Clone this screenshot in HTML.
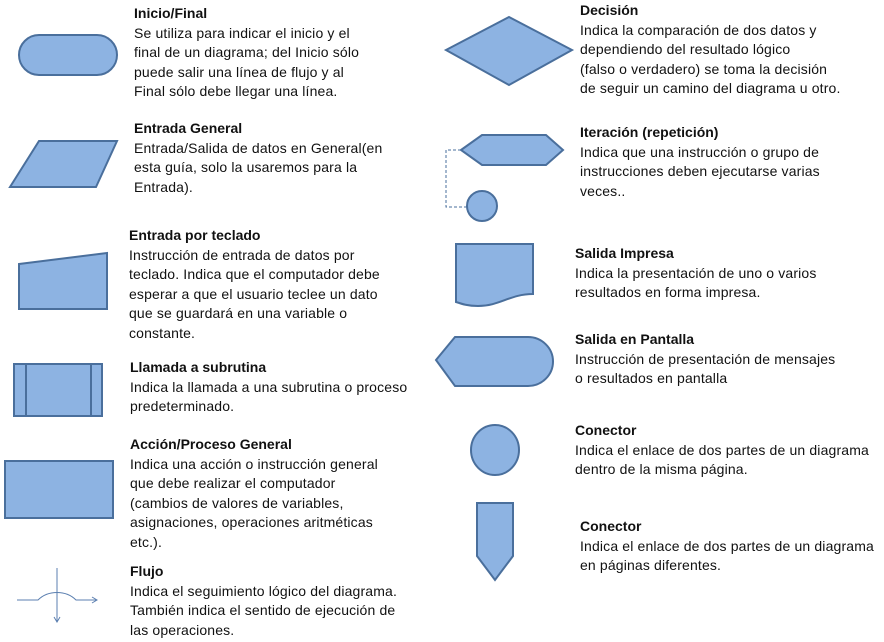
<!DOCTYPE html>
<html><head><meta charset="utf-8"><style>
body{margin:0;width:884px;height:642px;background:#fff;overflow:hidden;position:relative;font-family:"Liberation Sans",sans-serif;color:#111}
.t{position:absolute;font-size:14px;letter-spacing:0.15px;line-height:19.5px;white-space:nowrap}
.t b{display:block;letter-spacing:0}
svg{position:absolute;left:0;top:0}
</style></head><body>
<svg width="884" height="642">
<g fill="#8db3e2" stroke="#4a6f9c" stroke-width="2">
<rect x="19" y="35" width="98" height="40" rx="20"/>
<polygon points="10,187 39,141 117,141 96,187"/>
<polygon points="19,264 107,253 107,309 19,309"/>
<rect x="14" y="364" width="88" height="52"/>
<line x1="26" y1="364" x2="26" y2="416"/><line x1="91" y1="364" x2="91" y2="416"/>
<rect x="5" y="461" width="108" height="57"/>
<polygon points="446,50 509,17 572,50 509,85"/>
<polygon points="461,150 482,135 546,135 563,150 546,165 482,165"/>
<circle cx="482" cy="206" r="15"/>
<path d="M456,244 H533 V294 C510,294 500,306 478,306 C468,306 462,304 456,302 Z"/>
<path d="M436,360 L455,337 H528 A25,24.5 0 0 1 528,386 H455 Z"/>
<ellipse cx="495" cy="450" rx="24" ry="25"/>
<polygon points="477,503 513,503 513,556 495,580 477,556"/>
</g>
<path d="M461,150 H446 V207 H467" fill="none" stroke="#4a6f9c" stroke-dasharray="3,2"/>
<g stroke="#5b7fb0" fill="none" stroke-width="1">
<path d="M17,600 H38 C48,590 66,590 76,600 H97 M92,597 L97,600 L92,603"/>
<path d="M57,568 V622 M54,617 L57,622 L60,617"/>
</g>
</svg>
<div class="t" style="left:134px;top:4px"><b>Inicio/Final</b>Se utiliza para indicar el inicio y el<br>final de un diagrama; del Inicio sólo<br>puede salir una línea de flujo y al<br>Final sólo debe llegar una línea.</div>
<div class="t" style="left:134px;top:119px"><b>Entrada General</b>Entrada/Salida de datos en General(en<br>esta guía, solo la usaremos para la<br>Entrada).</div>
<div class="t" style="left:129px;top:226px"><b>Entrada por teclado</b>Instrucción de entrada de datos por<br>teclado. Indica que el computador debe<br>esperar a que el usuario teclee un dato<br>que se guardará en una variable o<br>constante.</div>
<div class="t" style="left:130px;top:358px"><b>Llamada a subrutina</b>Indica la llamada a una subrutina o proceso<br>predeterminado.</div>
<div class="t" style="left:130px;top:435px"><b>Acción/Proceso General</b>Indica una acción o instrucción general<br>que debe realizar el computador<br>(cambios de valores de variables,<br>asignaciones, operaciones aritméticas<br>etc.).</div>
<div class="t" style="left:130px;top:562px"><b>Flujo</b>Indica el seguimiento lógico del diagrama.<br>También indica el sentido de ejecución de<br>las operaciones.</div>
<div class="t" style="left:580px;top:1px"><b>Decisión</b>Indica la comparación de dos datos y<br>dependiendo del resultado lógico<br>(falso o verdadero) se toma la decisión<br>de seguir un camino del diagrama u otro.</div>
<div class="t" style="left:580px;top:123px"><b>Iteración (repetición)</b>Indica que una instrucción o grupo de<br>instrucciones deben ejecutarse varias<br>veces..</div>
<div class="t" style="left:575px;top:244px"><b>Salida Impresa</b>Indica la presentación de uno o varios<br>resultados en forma impresa.</div>
<div class="t" style="left:575px;top:330px"><b>Salida en Pantalla</b>Instrucción de presentación de mensajes<br>o resultados en pantalla</div>
<div class="t" style="left:575px;top:421px"><b>Conector</b>Indica el enlace de dos partes de un diagrama<br>dentro de la misma página.</div>
<div class="t" style="left:580px;top:517px"><b>Conector</b>Indica el enlace de dos partes de un diagrama<br>en páginas diferentes.</div>
</body></html>
